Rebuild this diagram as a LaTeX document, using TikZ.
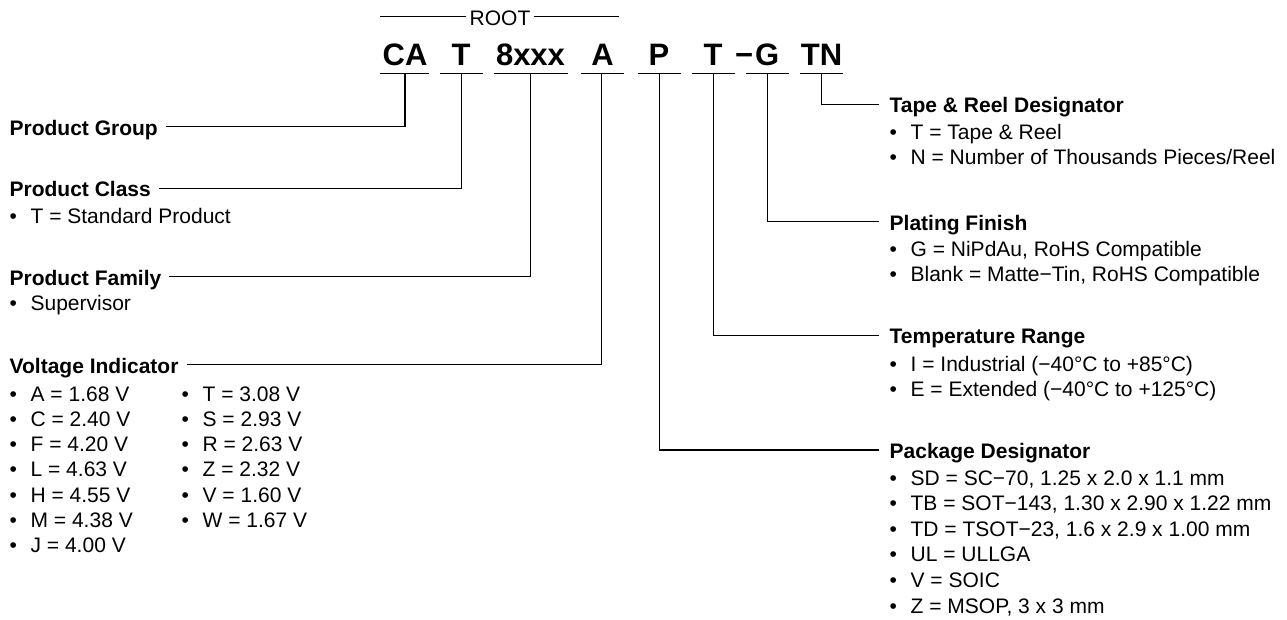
\documentclass[tikz,border=0pt]{standalone}
\usepackage{fontspec}
\setmainfont{Liberation Sans}
\newcommand{\bul}{\makebox[21pt][l]{\textbullet}}
\begin{document}
\begin{tikzpicture}[x=1pt,y=-1pt,line width=1.3pt,
  big/.style={font=\fontsize{31}{31}\selectfont\bfseries,inner sep=0pt,anchor=base},
  rootlbl/.style={font=\fontsize{21}{25}\selectfont,inner xsep=3.5pt,inner ysep=0pt,anchor=base},
  hd/.style={font=\fontsize{21}{25}\selectfont\bfseries,inner sep=0pt,text height=16.6pt,text depth=0pt,anchor=base west},
  item/.style={font=\fontsize{21}{25}\selectfont,inner sep=0pt,anchor=base west},
  lead/.style={line width=1.3pt},
  uline/.style={line width=1.4pt}]
\useasboundingbox (0,0) rectangle (1287,619);

% ROOT
\node[rootlbl] (root) at (500,25.5) {ROOT};
\coordinate (rootL) at (380,16);
\coordinate (rootR) at (619,16);
\draw[line width=1pt] (rootL) -- (rootL -| root.west);
\draw[line width=1pt] (root.east |- rootR) -- (rootR);

% part number letters
\node[big] (lCA) at (405,65) {CA};
\node[big] (lT1) at (461,65) {T};
\node[big] (l8)  at (530.5,65) {8xxx};
\node[big] (lA)  at (602.5,65) {A};
\node[big] (lP)  at (659,65) {P};
\node[big] (lT2) at (713,65) {T};
\node[big,anchor=base east] (lG) at (780,65) {\char"2212\kern2pt G};
\node[big] (lTN) at (821.5,65) {TN};

% underlines
\draw[uline] (380,73.3) -- (429,73.3);
\draw[uline] (440,73.3) -- (483,73.3);
\draw[uline] (494,73.3) -- (568,73.3);
\draw[uline] (581,73.3) -- (624,73.3);
\draw[uline] (638,73.3) -- (681,73.3);
\draw[uline] (692,73.3) -- (735,73.3);
\draw[uline] (746,73.3) -- (789,73.3);
\draw[uline] (800,73.3) -- (843,73.3);

\coordinate (uCA) at (405,73.3);
\coordinate (uT1) at (461.7,73.3);
\coordinate (u8)  at (530.7,73.3);
\coordinate (uA)  at (601.7,73.3);
\coordinate (uP)  at (659.3,73.3);
\coordinate (uT2) at (713.3,73.3);
\coordinate (uG)  at (767.3,73.3);
\coordinate (uTN) at (821.7,73.3);

% left headings
\node[hd] (hPG) at (9,135) {Product Group};
\node[hd] (hPC) at (9,196.7) {Product Class};
\node[hd] (hPF) at (9,285) {Product Family};
\node[hd] (hVI) at (9,373) {Voltage Indicator};

\node[item] (iPC) at (9,223) {\bul T = Standard Product};
\node[item] (iPF) at (9,310) {\bul Supervisor};

\foreach \t [count=\i] in {A = 1.68 V, C = 2.40 V, F = 4.20 V, L = 4.63 V, H = 4.55 V, M = 4.38 V, J = 4.00 V}
  \node[item] (vL\i) at (9,{401+(\i-1)*25.25}) {\bul \t};
\foreach \t [count=\i] in {T = 3.08 V, S = 2.93 V, R = 2.63 V, Z = 2.32 V, V = 1.60 V, W = 1.67 V}
  \node[item] (vR\i) at (181,{401+(\i-1)*25.25}) {\bul \t};

% right headings
\node[hd] (hTR) at (889,112.8) {Tape \& Reel Designator};
\node[hd] (hPl) at (889,230) {Plating Finish};
\node[hd] (hTe) at (889,343.5) {Temperature Range};
\node[hd] (hPk) at (889,458.3) {Package Designator};

\node[item] (iTR1) at (889,139) {\bul T = Tape \& Reel};
\node[item] (iTR2) at (889,164) {\bul N = Number of Thousands Pieces/Reel};
\node[item] (iPl1) at (889,256.7) {\bul G = NiPdAu, RoHS Compatible};
\node[item] (iPl2) at (889,281.7) {\bul Blank = Matte\char"2212 Tin, RoHS Compatible};
\node[item] (iTe1) at (889,371) {\bul I = Industrial (\char"2212 40°C to +85°C)};
\node[item] (iTe2) at (889,396.7) {\bul E = Extended (\char"2212 40°C to +125°C)};
\foreach \t [count=\i] in {{SD = SC\char"2212 70, 1.25 x 2.0 x 1.1 mm},
                           {TB = SOT\char"2212 143, 1.30 x 2.90 x 1.22 mm},
                           {TD = TSOT\char"2212 23, 1.6 x 2.9 x 1.00 mm},
                           {UL = ULLGA},
                           {V = SOIC},
                           {Z = MSOP, 3 x 3 mm}}
  \node[item] (iPk\i) at (889,{485+(\i-1)*25.6}) {\bul \t};

% leaders
\draw[lead,shorten <=7.5pt] (hPG.east) -| (uCA);
\draw[lead,shorten <=7.5pt] (hPC.east) -| (uT1);
\draw[lead,shorten <=7.5pt] (hPF.east) -| (u8);
\draw[lead,shorten <=7.5pt] (hVI.east) -| (uA);
\draw[lead,shorten >=10.5pt] (uP)  |- (hPk.west);
\draw[lead,shorten >=10.5pt] (uT2) |- (hTe.west);
\draw[lead,shorten >=10.5pt] (uG)  |- (hPl.west);
\draw[lead,shorten >=10.5pt] (uTN) |- (hTR.west);
\end{tikzpicture}
\end{document}
